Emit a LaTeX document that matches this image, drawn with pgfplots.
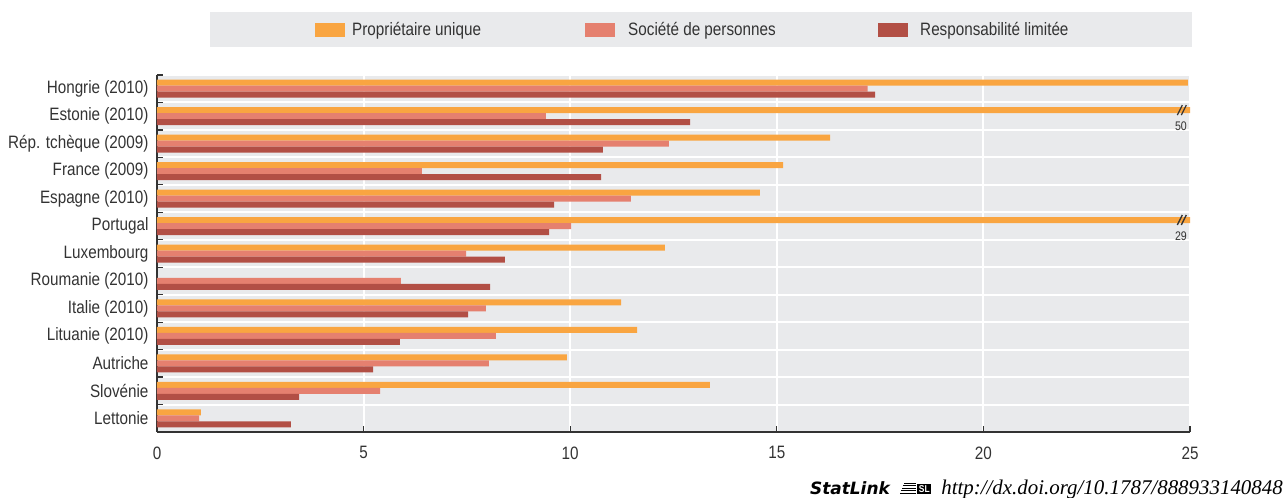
\documentclass[border=0pt]{standalone}
\usepackage{fontspec}
\setmainfont{Liberation Sans}[FakeStretch=0.85]
\newfontfamily\urlfont{Liberation Serif}
\newfontfamily\slfont{DejaVu Sans}
\usepackage{pgfplots}
\usepackage{pgfplotstable}
\pgfplotsset{compat=1.18}
\definecolor{cOr}{HTML}{F9A541}
\definecolor{cPk}{HTML}{E5806F}
\definecolor{cRd}{HTML}{B24F45}
\definecolor{bg}{HTML}{E9EAEC}
\definecolor{txt}{HTML}{333333}
\pgfplotstableread{
y own part ltd
0 24.95 17.20 17.38
1 50 9.41 12.90
2 16.29 12.39 10.79
3 15.15 6.41 10.75
4 14.59 11.47 9.61
5 29 10.02 9.49
6 12.29 7.48 8.42
7 nan 5.90 8.06
8 11.23 7.96 7.53
9 11.62 8.20 5.88
10 9.92 8.03 5.23
11 13.38 5.40 3.44
12 1.06 1.02 3.24
}\datatable
\begin{document}
\begin{tikzpicture}
\path[use as bounding box] (-157bp,-66bp) rectangle (1130bp,432bp);
\fill[bg] (53bp,385bp) rectangle (1035bp,420bp);
\node[anchor=base east, inner sep=0pt, text=black] at (1126bp,-62bp)
  {{\slfont\bfseries\itshape\fontsize{17}{20}\selectfont StatLink}\hspace{10bp}%
   \tikz[baseline=0pt]{\foreach \i in {0,2.6,5.2,7.8,10.4}{\draw[black,line width=0.9bp] (\i bp*0.4,\i bp+0.5bp) -- (16bp,\i bp+0.5bp);}
   \node[fill=black,text=white,inner sep=1.5pt,anchor=south west,font=\bfseries\fontsize{10}{10}\selectfont] at (17bp,0) {SL};}\hspace{10bp}%
   {\urlfont\itshape\fontsize{21}{24}\selectfont http://dx.doi.org/10.1787/888933140848}};
\begin{axis}[
  scale only axis, width=1033bp, height=357bp,
  xmin=0, xmax=25, ymin=-0.5, ymax=12.5, y dir=reverse,
  xbar, bar width=6bp,
  axis x line*=bottom, axis y line*=left,
  axis line style={-, txt, line width=1.4bp},
  xtick={0,5,...,25}, xmajorgrids,
  ytick={-0.5,0.5,...,12.5}, yticklabels={}, ymajorgrids,
  grid style={white, line width=2bp},
  tick align=inside, major tick length=6bp,
  tick style={txt, line width=1.2bp},
  extra y ticks={0,1,...,12},
  extra y tick labels={Hongrie (2010),Estonie (2010),Rép. tchèque (2009),France (2009),Espagne (2010),Portugal,Luxembourg,Roumanie (2010),Italie (2010),Lituanie (2010),Autriche,Slovénie,Lettonie},
  extra y tick style={major tick length=0pt, grid=none, tick style={draw=none}},
  axis background/.style={fill=bg},
  ticklabel style={font=\fontsize{18}{21}\selectfont, text=txt},
  /pgf/number format/assume math mode=true,
  xticklabel style={yshift=-11bp},
  yticklabel style={xshift=-5bp},
  clip mode=individual,
  legend columns=3,
  legend cell align=left,
  legend style={at={(axis description cs:0.1530,1.1273)}, anchor=west, fill=none, draw=none,
    inner sep=0pt, column sep=0pt, nodes={inner sep=0pt}, font=\fontsize{18}{21}\selectfont, text=txt},
  legend image code/.code={\fill[#1] (0bp,-7bp) rectangle (30bp,7bp);},
]
\addplot[fill=cOr, draw=none, bar shift=6bp] table[x=own, y=y] {\datatable};
\addlegendentry{\makebox[240bp][l]{\hspace{7bp}Propriétaire unique}}
\addplot[fill=cPk, draw=none, bar shift=0bp] table[x=part, y=y] {\datatable};
\addlegendentry{\makebox[263bp][l]{\hspace{13bp}Société de personnes}}
\addplot[fill=cRd, draw=none, bar shift=-6bp] table[x=ltd, y=y] {\datatable};
\addlegendentry{\makebox[284bp][l]{\hspace{12bp}Responsabilité limitée}}
% axis break marks
\draw[txt, line width=1.3bp] ([xshift=-4bp]axis cs:24.85,0.78) ++(-2.5bp,-5bp) -- ++(5bp,10bp);
\draw[txt, line width=1.3bp] (axis cs:24.85,0.78) ++(-2.5bp,-5bp) -- ++(5bp,10bp);
\node[text=txt, font=\fontsize{12.5}{14}\selectfont, inner sep=0pt] at (axis cs:24.78,1.38) {50};
\draw[txt, line width=1.3bp] ([xshift=-4bp]axis cs:24.85,4.78) ++(-2.5bp,-5bp) -- ++(5bp,10bp);
\draw[txt, line width=1.3bp] (axis cs:24.85,4.78) ++(-2.5bp,-5bp) -- ++(5bp,10bp);
\node[text=txt, font=\fontsize{12.5}{14}\selectfont, inner sep=0pt] at (axis cs:24.78,5.38) {29};
\end{axis}
\end{tikzpicture}
\end{document}
